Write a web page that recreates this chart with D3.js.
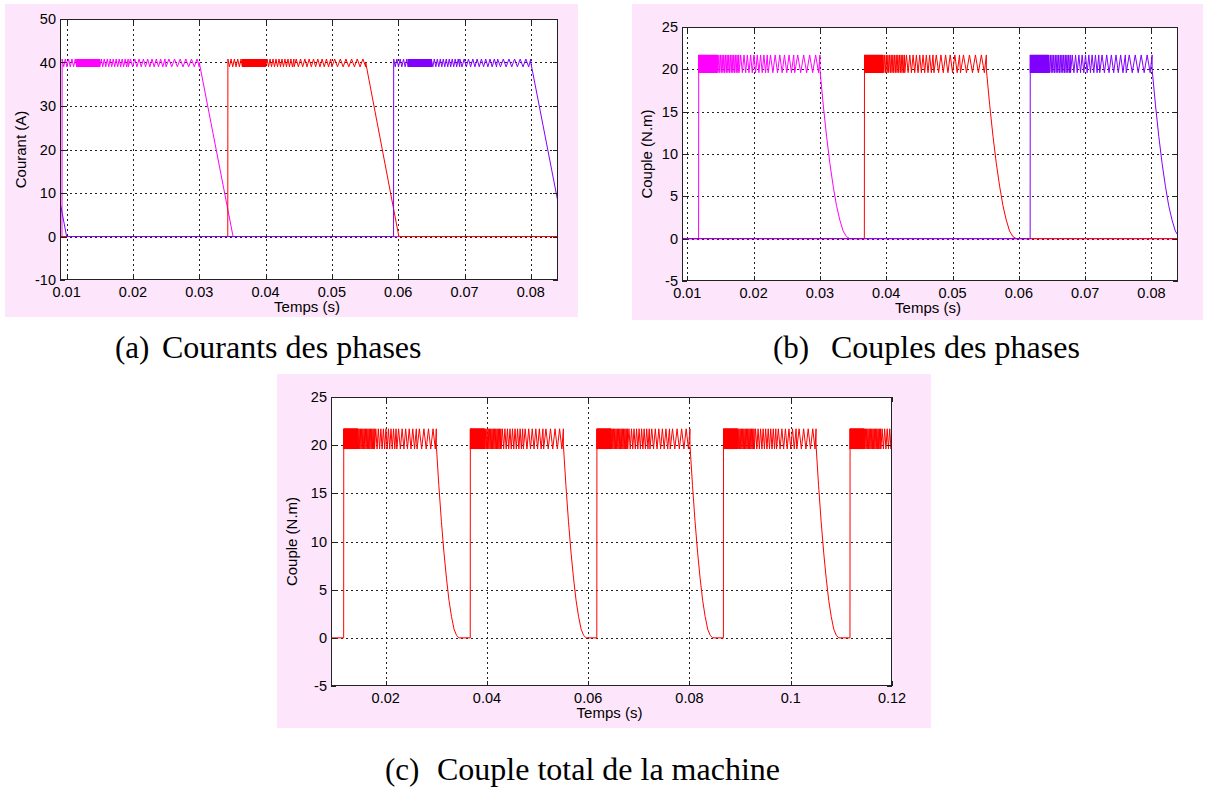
<!DOCTYPE html>
<html><head><meta charset="utf-8">
<script src="https://cdn.jsdelivr.net/npm/d3@7"></script>
<style>
html,body{margin:0;padding:0;background:#fff;}
svg{display:block;}
</style>
</head><body>
<svg id="c" width="1207" height="787"></svg>
<script>
// ---------- DATA ----------
const phaseColors = ["#ff00ff", "#ff0000", "#8000ff"];   // magenta, red, purple

// (a) phase currents
const curOnTimes    = [-0.0157, 0.0093, 0.0343, 0.0593];
const curChopEnd    = [ 0.0050, 0.0300, 0.0551, 0.0800];
const curZeroTimes  = [ 0.0100, 0.0351, 0.0601, 0.0851];
const curPhase      = [2, 0, 1, 2];
const curBand       = [39.0, 40.8];
// chopping segments relative to turn-on: [from, to, tooth period] (s)
const curTeeth      = [[0, 0.0022, 0.0005], [0.0022, 0.0057, 0.00007], [0.0057, 0.0100, 0.00045],
                       [0.0100, 0.0157, 0.00065], [0.0157, 0.0300, 0.00085]];

// (b)/(c) torques
const torOnTimes    = [-0.0133, 0.0117, 0.0367, 0.0617, 0.0867, 0.1117];
const torChopEnd    = [ 0.0050, 0.0300, 0.0551, 0.0801, 0.1050, 0.1300];
const torPhase      = [2, 0, 1, 2, 0, 1];
const torBand       = [19.6, 21.7];
const torTeeth      = [[0, 0.0028, 0.00006], [0.0028, 0.0061, 0.00025], [0.0061, 0.0105, 0.0005],
                       [0.0105, 0.0145, 0.0007], [0.0145, 0.0300, 0.0009]];
// torque fall after chopping: [time after chop end (s), torque (N.m)]
const torFall       = [[0,20],[0.0005,15.8],[0.001,12.1],[0.0015,8.9],[0.002,6.2],[0.0025,3.9],
                       [0.003,2.2],[0.0035,0.9],[0.004,0.25],[0.0045,0]];

// axes
const xTicksAB  = [0.01, 0.02, 0.03, 0.04, 0.05, 0.06, 0.07, 0.08];
const xLabelsAB = ["0.01","0.02","0.03","0.04","0.05","0.06","0.07","0.08"];
const xTicksC   = [0.02, 0.04, 0.06, 0.08, 0.1, 0.12];
const xLabelsC  = ["0.02","0.04","0.06","0.08","0.1","0.12"];
const yTicksA   = [-10, 0, 10, 20, 30, 40, 50];
const yLabelsA  = ["-10","0","10","20","30","40","50"];
const yTicksT   = [-5, 0, 5, 10, 15, 20, 25];
const yLabelsT  = ["-5","0","5","10","15","20","25"];
const capLetters = ["(a)", "(b)", "(c)"];
const capTexts   = ["Courants des phases", "Couples des phases", "Couple total de la machine"];

// ---------- helpers ----------
function chopPoints(ton, tend, segs, band) {
  const pts = [[ton, 0], [ton + 0.00002, band[1]]];
  let hi = true;
  segs.forEach(([a, b, p]) => {
    let t = ton + a;
    const stop = Math.min(ton + b, tend);
    while (t < stop) {
      t = Math.min(t + p / 2, stop);
      hi = !hi;
      pts.push([t, hi ? band[1] : band[0]]);
    }
  });
  return pts;
}
function currentSeries(phase, domain) {
  const pts = [[domain[0] - 0.01, 0]];
  curOnTimes.forEach((ton, i) => {
    if (curPhase[i] !== phase) return;
    chopPoints(ton, curChopEnd[i], curTeeth, curBand).forEach(p => pts.push(p));
    pts.push([curChopEnd[i], 40]);
    pts.push([curZeroTimes[i], 0]);
  });
  pts.push([domain[1] + 0.01, 0]);
  return pts.sort((a, b) => a[0] - b[0]);
}
function torqueSeries(phase, domain) {
  const pts = [[domain[0] - 0.01, 0]];
  torOnTimes.forEach((ton, i) => {
    if (phase !== null && torPhase[i] !== phase) return;
    chopPoints(ton, torChopEnd[i], torTeeth, torBand).forEach(p => pts.push(p));
    torFall.forEach(([dt, v]) => pts.push([torChopEnd[i] + dt, v]));
  });
  pts.push([domain[1] + 0.03, 0]);
  return pts.sort((a, b) => a[0] - b[0]);
}

const svg = d3.select("#c");
let clipId = 0;
const sans = "Liberation Sans, Arial, sans-serif";
const serif = "Liberation Serif, Times New Roman, serif";
function panel(cfg) {
  const g = svg.append("g");
  g.append("rect").attr("x", cfg.bg[0]).attr("y", cfg.bg[1])
    .attr("width", cfg.bg[2]).attr("height", cfg.bg[3]).attr("fill", "#fde5fb");
  const [L, T, R, B] = cfg.plot;
  const x = d3.scaleLinear().domain(cfg.xd).range([L, R]);
  const y = d3.scaleLinear().domain(cfg.yd).range([B, T]);
  g.append("rect").attr("x", L).attr("y", T).attr("width", R - L).attr("height", B - T).attr("fill", "#fff");
  // grid
  const grid = g.append("g").attr("stroke", "#222").attr("stroke-width", 1).attr("stroke-dasharray", "2,3");
  cfg.xt.forEach(v => { const px = Math.round(x(v)) + 0.5; if (px > L + 1 && px < R - 1)
    grid.append("line").attr("x1", px).attr("x2", px).attr("y1", T).attr("y2", B); });
  cfg.yt.forEach(v => { const py = Math.round(y(v)) + 0.5; if (py > T + 1 && py < B - 1)
    grid.append("line").attr("x1", L).attr("x2", R).attr("y1", py).attr("y2", py); });
  // series
  const id = "clip" + (clipId++);
  g.append("clipPath").attr("id", id).append("rect").attr("x", L).attr("y", T).attr("width", R - L).attr("height", B - T);
  const line = d3.line().x(d => x(d[0])).y(d => y(d[1]));
  const sg = g.append("g").attr("clip-path", `url(#${id})`);
  cfg.series.forEach(s => sg.append("path").attr("d", line(s.pts)).attr("fill", "none")
    .attr("stroke", s.color).attr("stroke-width", 1).attr("stroke-linejoin", "round"));
  // box and ticks
  g.append("rect").attr("x", L + 0.5).attr("y", T + 0.5).attr("width", R - L - 1).attr("height", B - T - 1)
    .attr("fill", "none").attr("stroke", "#222").attr("stroke-width", 1);
  const tk = g.append("g").attr("stroke", "#222");
  cfg.xt.forEach(v => { const px = Math.round(x(v)) + 0.5;
    tk.append("line").attr("x1", px).attr("x2", px).attr("y1", B).attr("y2", B - 5);
    tk.append("line").attr("x1", px).attr("x2", px).attr("y1", T).attr("y2", T + 5); });
  cfg.yt.forEach(v => { const py = Math.round(y(v)) + 0.5;
    tk.append("line").attr("x1", L).attr("x2", L + 5).attr("y1", py).attr("y2", py);
    tk.append("line").attr("x1", R).attr("x2", R - 5).attr("y1", py).attr("y2", py); });
  cfg.xt.forEach((v, i) => g.append("text").attr("x", x(v)).attr("y", B + 17).attr("text-anchor", "middle")
    .attr("font-family", sans).attr("font-size", 14.5).attr("fill", "#000").text(cfg.xl[i]));
  cfg.yt.forEach((v, i) => g.append("text").attr("x", L - 4).attr("y", y(v) + 5).attr("text-anchor", "end")
    .attr("font-family", sans).attr("font-size", 14.5).attr("fill", "#000").text(cfg.yl[i]));
  g.append("text").attr("x", (L + R) / 2 - 2).attr("y", B + 32).attr("text-anchor", "middle")
    .attr("font-family", sans).attr("font-size", 15).text("Temps (s)");
  g.append("text").attr("transform", `translate(${cfg.ylx},${(T + B) / 2}) rotate(-90)`).attr("text-anchor", "middle")
    .attr("font-family", sans).attr("font-size", 15).text(cfg.ylab);
  svg.append("text").attr("x", cfg.cap[0]).attr("y", cfg.cap[2]).attr("font-family", serif)
    .attr("font-size", 31).text(cfg.capL);
  svg.append("text").attr("x", cfg.cap[1]).attr("y", cfg.cap[2]).attr("font-family", serif)
    .attr("font-size", 32).text(cfg.capT);
}

const xdA = [0.009, 0.0841], xdB = [0.0092, 0.0840], xdC = [0.0092, 0.12];
panel({ bg: [5, 4, 573, 313], plot: [60, 19, 558, 280], xd: xdA, yd: [-10, 50],
  xt: xTicksAB, xl: xLabelsAB, yt: yTicksA, yl: yLabelsA, ylab: "Courant (A)", ylx: 26,
  series: [0, 1, 2].map(p => ({ color: phaseColors[p], pts: currentSeries(p, xdA) })),
  cap: [115, 162, 358], capL: capLetters[0], capT: capTexts[0] });
panel({ bg: [632, 4, 571, 316], plot: [682, 27, 1178, 281], xd: xdB, yd: [-5, 25],
  xt: xTicksAB, xl: xLabelsAB, yt: yTicksT, yl: yLabelsT, ylab: "Couple (N.m)", ylx: 652,
  series: [0, 1, 2].map(p => ({ color: phaseColors[p], pts: torqueSeries(p, xdB) })),
  cap: [773, 831, 358], capL: capLetters[1], capT: capTexts[1] });
panel({ bg: [277, 374, 654, 354], plot: [331, 397, 892, 686], xd: xdC, yd: [-5, 25],
  xt: xTicksC, xl: xLabelsC, yt: yTicksT, yl: yLabelsT, ylab: "Couple (N.m)", ylx: 297,
  series: [{ color: phaseColors[1], pts: torqueSeries(null, xdC) }],
  cap: [385, 437, 780], capL: capLetters[2], capT: capTexts[2] });
</script>
</body></html>
